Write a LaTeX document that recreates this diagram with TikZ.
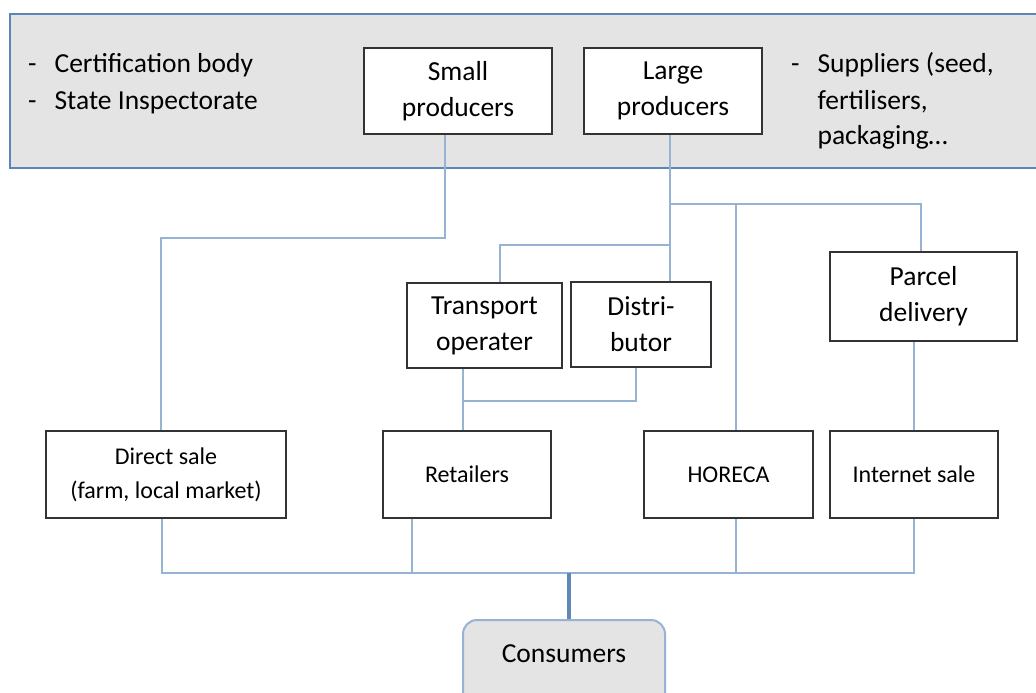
\documentclass[tikz,border=0pt]{standalone}
\usepackage{fontspec}
\setmainfont{Carlito}
\usetikzlibrary{calc}
\definecolor{panelfill}{HTML}{E4E4E4}
\definecolor{panelline}{HTML}{5A86BA}
\definecolor{connline}{HTML}{96B3D4}
\definecolor{trunkline}{HTML}{5F88B8}
\definecolor{boxline}{HTML}{333333}
\begin{document}
\begin{tikzpicture}[x=1pt,y=-1pt,
  bigfont/.style={font=\fontsize{27.5}{36}\selectfont},
  smallfont/.style={font=\fontsize{24}{34}\selectfont},
  actor/.style={draw=boxline,line width=2pt,fill=white,inner sep=0pt,align=center,bigfont},
  outlet/.style={draw=boxline,line width=2pt,fill=white,inner sep=0pt,align=center,smallfont,
    minimum width=168pt,minimum height=87pt},
  conn/.style={draw=connline,line width=2.6pt},
  trunk/.style={draw=trunkline,line width=3.2pt}]
\useasboundingbox (0,0) rectangle (1036,693);
\clip (0,0) rectangle (1036,693);

% grey panel holding the producers and the surrounding actors
\node[draw=panelline,line width=1.6pt,fill=panelfill,minimum width=1040pt,minimum height=154pt,
  anchor=north west,inner sep=0pt] (panel) at (9,13) {};

\node[anchor=base west,inner sep=0pt,bigfont] (inst) at (28,73)
  {\begin{tabular}[t]{@{}l@{\hspace{18pt}}l@{}}-&Certification body\\-&State Inspectorate\end{tabular}};
\node[anchor=base west,inner sep=0pt,bigfont] (supp) at (791,73)
  {\begin{tabular}[t]{@{}l@{\hspace{18pt}}l@{}}-&Suppliers (seed,\\&fertilisers,\\&packaging…\end{tabular}};

% producers
\node[actor,minimum width=188pt,minimum height=86pt] (small) at (458,91) {Small\\producers};
\node[actor,minimum width=178pt,minimum height=86pt] (large) at (673,91) {Large\\producers};

% intermediaries
\node[actor,minimum width=155pt,minimum height=85pt] (transport) at (484.5,325.5) {Transport\\operater};
\node[actor,minimum width=140pt,minimum height=85pt] (distributor) at (641,324.5) {Distri-\\butor};
\node[actor,minimum width=187pt,minimum height=89pt] (parcel) at (923.5,296.5) {Parcel\\delivery};

% sales channels
\node[outlet,minimum width=240pt] (direct) at (166,474.5) {Direct sale\\(farm, local market)};
\node[outlet] (retailers) at (467,474) {Retailers};
\node[outlet,minimum width=169pt] (horeca) at (728.5,474.5) {HORECA};
\node[outlet] (internet) at (914,474.5) {Internet sale};

% consumers
\node[draw=connline,line width=2pt,fill=panelfill,rounded corners=14pt,anchor=north,
  minimum width=202pt,inner sep=0pt,text height=42pt,text depth=48pt,bigfont] (consumers) at (564,619) {Consumers};

% junctions of the flow lines
\coordinate (sq) at (161,238);
\coordinate (lp) at (670,204);
\coordinate (lq) at (670,245);
\coordinate (rq) at (463,401);
\coordinate (bus) at (569,573);

% producers to channels
\draw[conn] ([xshift=-13pt]small.south) |- (sq) -- (direct.north -| sq);
\draw[conn] ([xshift=-3pt]large.south) -- ([xshift=29pt]distributor.north);
\draw[conn] (lp) -| ([xshift=-2.5pt]parcel.north);
\draw[conn] (lp) -| ([xshift=7.5pt]horeca.north);
\draw[conn] (lq) -| ([xshift=15.5pt]transport.north);
\draw[conn] ([xshift=-21.5pt]transport.south) -- ([xshift=-4pt]retailers.north);
\draw[conn] ([xshift=-5pt]distributor.south) |- (rq);
\draw[conn] ([xshift=-9.5pt]parcel.south) -- (internet.north);

% channels to consumers
\draw[conn] ([xshift=-4pt]direct.south) |- (bus);
\draw[conn] ([xshift=-55pt]retailers.south) |- (bus);
\draw[conn] ([xshift=7.5pt]horeca.south) |- (bus);
\draw[conn] (internet.south) |- (bus);
\draw[trunk] (bus) -- (bus |- consumers.north);
\end{tikzpicture}
\end{document}
